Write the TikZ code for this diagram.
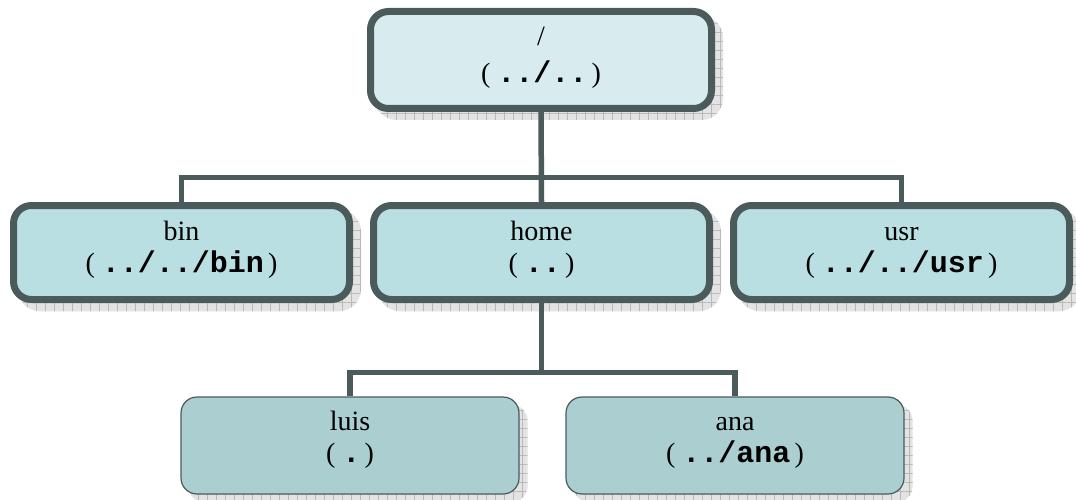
\documentclass[tikz,border=0pt]{standalone}
\usepackage{fontspec}
\setmainfont{Liberation Serif}
\newfontfamily\pathfont{Liberation Mono}
\usetikzlibrary{patterns.meta}

\pgfdeclarelayer{shadowlayer}
\pgfdeclarelayer{edgelayer}
\pgfsetlayers{shadowlayer,edgelayer,main}

\definecolor{edgegray}{HTML}{4B5A5A}
\definecolor{rootfill}{HTML}{D8ECEF}
\definecolor{midfill}{HTML}{B9DFE3}
\definecolor{leaffill}{HTML}{ABCFD1}

% relative path: serif parentheses round a bold monospaced path
\newcommand{\relpath}[1]{(\hspace{0.25em}{\pathfont\bfseries\fontsize{30}{32}\selectfont #1}\hspace{0.15em})}
% two-line box text; the struts fix the height above the first baseline
% and the depth below the second one
\newcommand{\dirlabel}[4]{\rule{0pt}{#3}#1\\\relpath{#2}\rule[-#4]{0pt}{#4}}

\tikzset{
  dirbox/.style={rectangle, draw=edgegray, inner sep=0pt, align=center},
  thickbox/.style={dirbox, line width=7pt, rounded corners=18pt,
    minimum width=336pt, minimum height=94pt, font=\fontsize{28}{32}\selectfont},
  leafbox/.style={dirbox, line width=1.2pt, rounded corners=16pt, fill=leaffill,
    minimum width=338pt, minimum height=97pt, font=\fontsize{28}{32}\selectfont},
  conn/.style={draw=edgegray, line width=5.5pt, line join=miter},
  shadowstyle/.style={fill=gray!22,
    postaction={pattern={Lines[distance=9pt,angle=0,line width=0.6pt]}, pattern color=gray!55},
    postaction={pattern={Lines[distance=9pt,angle=90,line width=0.6pt]}, pattern color=gray!55}},
}

\begin{document}
\begin{tikzpicture}[x=1pt,y=-1pt]
\useasboundingbox (0,0) rectangle (1076,500);

% directory boxes
\node[thickbox, fill=rootfill, minimum width=341pt, minimum height=97pt,
      font=\fontsize{28}{37}\selectfont] (root) at (541,60) {\dirlabel{/}{../..}{24pt}{15pt}};
\node[thickbox, fill=midfill] (bin)  at (181.5,252.5) {\dirlabel{bin}{../../bin}{24pt}{17pt}};
\node[thickbox, fill=midfill] (home) at (541.5,252.5) {\dirlabel{home}{..}{24pt}{17pt}};
\node[thickbox, fill=midfill] (usr)  at (901.5,252.5) {\dirlabel{usr}{../../usr}{24pt}{17pt}};
\node[leafbox] (luis) at (350,445.5) {\dirlabel{luis}{.}{24pt}{23pt}};
\node[leafbox] (ana)  at (735,445.5) {\dirlabel{ana}{../ana}{24pt}{23pt}};

% drop shadows behind the boxes
\begin{pgfonlayer}{shadowlayer}
  \foreach \n/\r in {root/21.5,bin/21.5,home/21.5,usr/21.5,luis/16.6,ana/16.6}
    \path[shadowstyle, rounded corners=\r pt]
      ([shift={(8pt,-8pt)}]\n.north west) rectangle ([shift={(8pt,-8pt)}]\n.south east);
\end{pgfonlayer}

% tree connectors
\coordinate (busA) at (0,177.5);
\coordinate (busB) at (0,372.5);
\begin{pgfonlayer}{edgelayer}
  \draw[conn] (root.south) -- (home.north);
  \draw[conn] (bin.north) -- (bin.north |- busA) -- (usr.north |- busA) -- (usr.north);
  \draw[conn] (home.south) -- (home.south |- busB);
  \draw[conn] (luis.north) -- (luis.north |- busB) -- (ana.north |- busB) -- (ana.north);
\end{pgfonlayer}
\end{tikzpicture}
\end{document}
